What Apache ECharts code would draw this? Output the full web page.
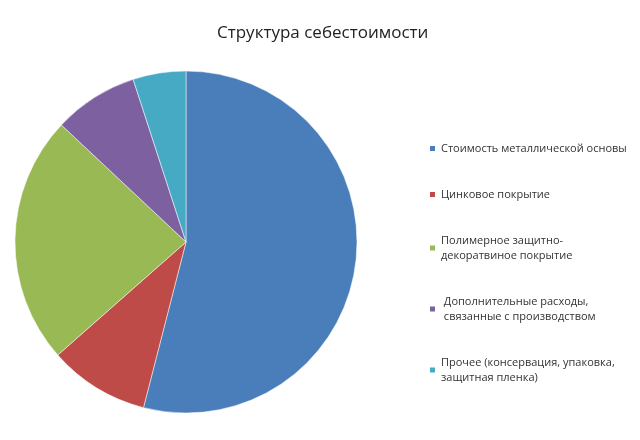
<!DOCTYPE html>
<html>
<head>
<meta charset="utf-8">
<script src="https://cdn.jsdelivr.net/npm/echarts@6/dist/echarts.min.js"></script>
<style>html,body{margin:0;padding:0;background:#fff}#chart{width:640px;height:440px}</style>
</head>
<body>
<div id="chart"></div>
<script>
const categories = [
  'Стоимость металлической основы',
  'Цинковое покрытие',
  'Полимерное защитно-\nдекоратвиное покрытие',
  ' Дополнительные расходы,\n связанные с производством',
  'Прочее (консервация, упаковка,\nзащитная пленка)'
]
const values = [54, 9.5, 23.5, 8, 5]
const colors = ['#4a7ebb', '#be4b48', '#98b954', '#7d60a0', '#46aac5']

var myChart = echarts.init(document.getElementById('chart'))
var option = {
  title: {
    text: 'Структура себестоимости',
    left: 212, top: 20,
    textStyle: { fontFamily: 'Open Sans', fontWeight: 'normal', fontSize: 17, color: '#222' }
  },
  legend: {
    orient: 'vertical',
    left: 423, top: 136,
    itemWidth: 7, itemHeight: 7, itemGap: 31,
    icon: 'rect',
    textStyle: { fontFamily: 'Open Sans', fontSize: 11, color: '#333', lineHeight: 15 },
    data: categories
  },
  series: [{
    type: 'pie',
    center: [186, 242],
    radius: 171,
    startAngle: 90,
    clockwise: true,
    label: { show: false },
    itemStyle: { borderColor: '#fff', borderWidth: 0.5 },
    data: categories.map((c, i) => ({ name: c, value: values[i], itemStyle: { color: colors[i] } }))
  }]
}
myChart.setOption(option)
</script>
</body>
</html>
